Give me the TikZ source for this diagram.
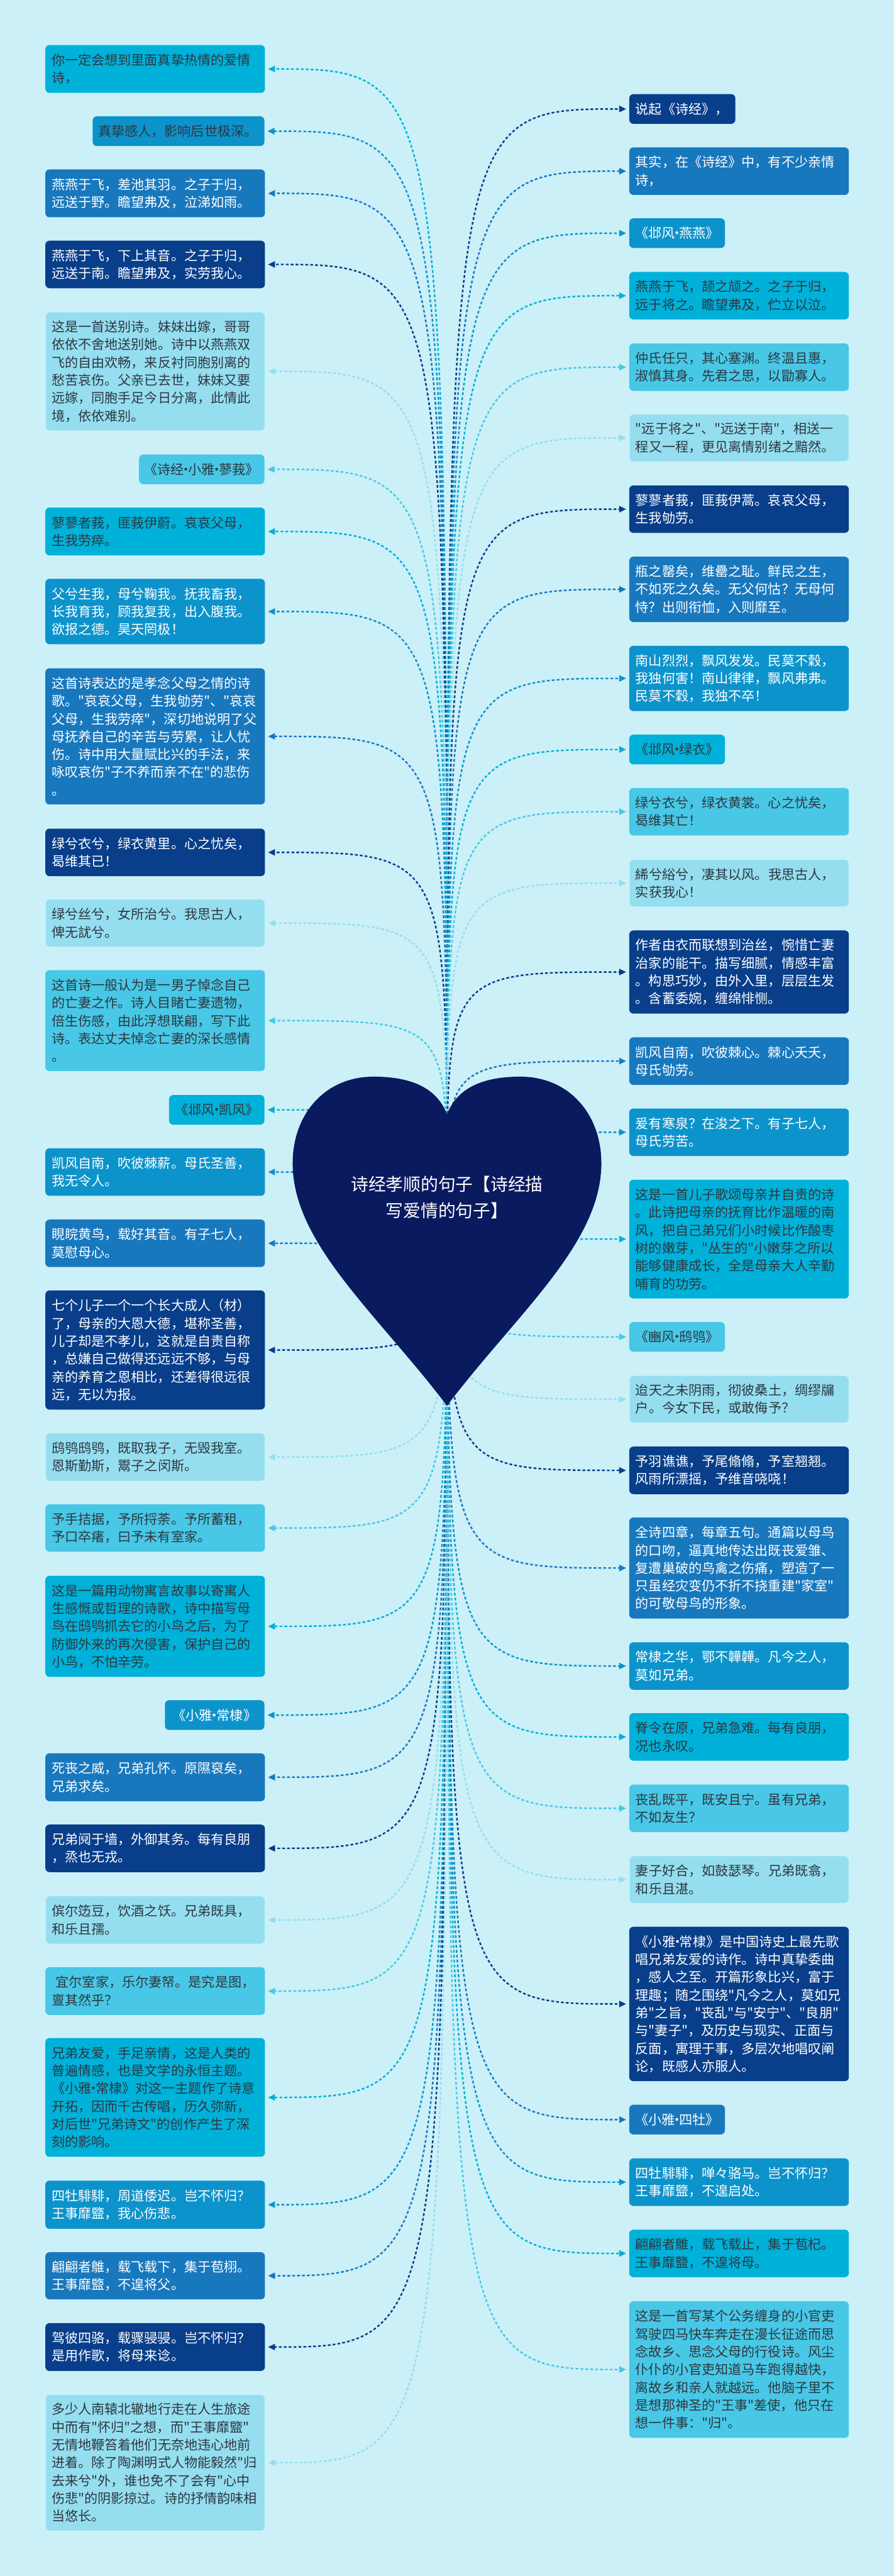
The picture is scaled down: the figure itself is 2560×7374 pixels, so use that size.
\documentclass[tikz,border=0pt]{standalone}
\usepackage{fontspec}
\newfontfamily\cjk{Noto Sans CJK SC}
\usetikzlibrary{arrows.meta}
\definecolor{bgc}{RGB}{203,240,248}
\definecolor{cnavy}{RGB}{8,62,138}
\definecolor{cblue}{RGB}{24,120,190}
\definecolor{cmid}{RGB}{13,147,203}
\definecolor{ccyan}{RGB}{0,177,217}
\definecolor{clight}{RGB}{72,200,230}
\definecolor{cpale}{RGB}{149,222,240}
\definecolor{cheart}{RGB}{10,26,94}
\definecolor{ctext}{RGB}{45,55,65}
\newcommand\mdt{\makebox[0.32em]{·}}
\pgfdeclarelayer{bglayer}
\pgfdeclarelayer{linelayer}
\pgfsetlayers{bglayer,linelayer,main}
\begin{document}
\begin{tikzpicture}[x=0.25pt,y=-0.25pt,
  box/.style={rounded corners=3pt, inner ysep=0pt, font=\cjk\fontsize{9.5pt}{12.75pt}\selectfont},
  lb/.style={box, anchor=west, align=left, inner xsep=4.5pt, text width=148.25pt, minimum height=#1*0.25pt},
  tl/.style={box, anchor=east, align=center, inner xsep=0pt, minimum width=#1*0.25pt, minimum height=21.25pt},
  tr/.style={box, anchor=west, align=center, inner xsep=0pt, minimum width=#1*0.25pt, minimum height=21.25pt},
  kNavy/.style={fill=cnavy, text=white},
  kBlue/.style={fill=cblue, text=white},
  kMid/.style={fill=cmid, text=white},
  kCyan/.style={fill=ccyan, text=ctext},
  kLight/.style={fill=clight, text=ctext},
  kPale/.style={fill=cpale, text=ctext, draw=white!55!cpale, line width=0.5pt},
  conn/.style={line width=1.1pt, dash pattern=on 2pt off 1.5pt, -{Triangle[length=5pt,width=4.5pt]}, shorten >=2pt},
]
\begin{pgfonlayer}{bglayer}
\fill[bgc] (0,0) rectangle (2560,7374);
\end{pgfonlayer}
\useasboundingbox (0,0) rectangle (2560,7374);
\coordinate (o) at (1280,3440);

% ---------- left column ----------
\node[lb=137,kCyan] (L1) at (129,197.5) {你一定会想到里面真挚热情的爱情\\诗，};
\node[box,anchor=east,align=left,inner xsep=4pt,text width=115pt,minimum height=21.25pt,fill=cmid,text=ctext] (L2) at (758,375.5) {真挚感人，影响后世极深。};
\node[lb=137,kBlue] (L3) at (129,553.5) {燕燕于飞，差池其羽。之子于归，\\远送于野。瞻望弗及，泣涕如雨。};
\node[lb=136,kNavy] (L4) at (129,757) {燕燕于飞，下上其音。之子于归，\\远送于南。瞻望弗及，实劳我心。};
\node[lb=340,kPale] (L5) at (129,1063) {这是一首送别诗。妹妹出嫁，哥哥\\依依不舍地送别她。诗中以燕燕双\\飞的自由欢畅，来反衬同胞别离的\\愁苦哀伤。父亲已去世，妹妹又要\\远嫁，同胞手足今日分离，此情此\\境，依依难别。};
\node[tl=359,kLight] (L6) at (758,1343.5) {《诗经\mdt 小雅\mdt 蓼莪》};
\node[lb=137,kCyan] (L7) at (129,1521.5) {蓼蓼者莪，匪莪伊蔚。哀哀父母，\\生我劳瘁。};
\node[lb=187,kMid] (L8) at (129,1750.5) {父兮生我，母兮鞠我。抚我畜我，\\长我育我，顾我复我，出入腹我。\\欲报之德。昊天罔极！};
\node[lb=390,kBlue] (L9) at (129,2108) {这首诗表达的是孝念父母之情的诗\\歌。"哀哀父母，生我劬劳"、"哀哀\\父母，生我劳瘁"，深切地说明了父\\母抚养自己的辛苦与劳累，让人忧\\伤。诗中用大量赋比兴的手法，来\\咏叹哀伤"子不养而亲不在"的悲伤\\。};
\node[lb=136,kNavy] (L10) at (129,2440) {绿兮衣兮，绿衣黄里。心之忧矣，\\曷维其已！};
\node[lb=137,kPale] (L11) at (129,2642.5) {绿兮丝兮，女所治兮。我思古人，\\俾无訧兮。};
\node[lb=289,kLight] (L12) at (129,2921.5) {这首诗一般认为是一男子悼念自己\\的亡妻之作。诗人目睹亡妻遗物，\\倍生伤感，由此浮想联翩，写下此\\诗。表达丈夫悼念亡妻的深长感情\\。};
\node[tl=273,kCyan] (L13) at (758,3177) {《邶风\mdt 凯风》};
\node[lb=136,kMid] (L14) at (129,3355) {凯风自南，吹彼棘薪。母氏圣善，\\我无令人。};
\node[lb=136,kBlue] (L15) at (129,3559) {睍睆黄鸟，载好其音。有子七人，\\莫慰母心。};
\node[lb=341,kNavy] (L16) at (129,3864.5) {七个儿子一个一个长大成人（材）\\了，母亲的大恩大德，堪称圣善，\\儿子却是不孝儿，这就是自责自称\\，总嫌自己做得还远远不够，与母\\亲的养育之恩相比，还差得很远很\\远，无以为报。};
\node[lb=138,kPale] (L17) at (129,4171) {鸱鸮鸱鸮，既取我子，无毁我室。\\恩斯勤斯，鬻子之闵斯。};
\node[lb=136,kLight] (L18) at (129,4374) {予手拮据，予所捋荼。予所蓄租，\\予口卒瘏，曰予未有室家。};
\node[lb=289,kCyan] (L19) at (129,4655.5) {这是一篇用动物寓言故事以寄寓人\\生感慨或哲理的诗歌，诗中描写母\\鸟在鸱鸮抓去它的小鸟之后，为了\\防御外来的再次侵害，保护自己的\\小鸟，不怕辛劳。};
\node[tl=285,kMid] (L20) at (758,4909.5) {《小雅\mdt 常棣》};
\node[lb=137,kBlue] (L21) at (129,5087.5) {死丧之威，兄弟孔怀。原隰裒矣，\\兄弟求矣。};
\node[lb=136,kNavy] (L22) at (129,5291) {兄弟阋于墙，外御其务。每有良朋\\，烝也无戎。};
\node[lb=138,kPale] (L23) at (129,5496) {傧尔笾豆，饮酒之饫。兄弟既具，\\和乐且孺。};
\node[lb=137,kLight] (L24) at (129,5699.5) {\hspace{3pt}宜尔室家，乐尔妻帑。是究是图，\\亶其然乎？};
\node[lb=340,kCyan] (L25) at (129,6004) {兄弟友爱，手足亲情，这是人类的\\普遍情感，也是文学的永恒主题。\\《小雅\mdt 常棣》对这一主题作了诗意\\开拓，因而千古传唱，历久弥新，\\对后世"兄弟诗文"的创作产生了深\\刻的影响。};
\node[lb=138,kMid] (L26) at (129,6311) {四牡騑騑，周道倭迟。岂不怀归？\\王事靡盬，我心伤悲。};
\node[lb=135,kBlue] (L27) at (129,6514.5) {翩翩者鵻，载飞载下，集于苞栩。\\王事靡盬，不遑将父。};
\node[lb=137,kNavy] (L28) at (129,6718.5) {驾彼四骆，载骤骎骎。岂不怀归？\\是用作歌，将母来谂。};
\node[lb=391,kPale] (L29) at (129,7049.5) {多少人南辕北辙地行走在人生旅途\\中而有"怀归"之想，而"王事靡盬"\\无情地鞭笞着他们无奈地违心地前\\进着。除了陶渊明式人物能毅然"归\\去来兮"外，谁也免不了会有"心中\\伤悲"的阴影掠过。诗的抒情韵味相\\当悠长。};

% ---------- right column ----------
\node[box,anchor=west,align=left,inner xsep=4.5pt,text width=67pt,minimum height=21.25pt,kNavy] (R1) at (1801,312) {说起《诗经》，};
\node[lb=136,kBlue] (R2) at (1801,490) {其实，在《诗经》中，有不少亲情\\诗，};
\node[tr=274,kMid] (R3) at (1801,667.5) {《邶风\mdt 燕燕》};
\node[lb=136,kCyan] (R4) at (1801,846.5) {燕燕于飞，颉之颃之。之子于归，\\远于将之。瞻望弗及，伫立以泣。};
\node[lb=136,kLight] (R5) at (1801,1051) {仲氏任只，其心塞渊。终温且惠，\\淑慎其身。先君之思，以勖寡人。};
\node[lb=136,kPale] (R6) at (1801,1253.5) {"远于将之"、"远送于南"，相送一\\程又一程，更见离情别绪之黯然。};
\node[lb=136,kNavy] (R7) at (1801,1457.5) {蓼蓼者莪，匪莪伊蒿。哀哀父母，\\生我劬劳。};
\node[lb=187,kBlue] (R8) at (1801,1687) {瓶之罄矣，维罍之耻。鲜民之生，\\不如死之久矣。无父何怙？无母何\\恃？出则衔恤，入则靡至。};
\node[lb=187,kMid] (R9) at (1801,1942) {南山烈烈，飘风发发。民莫不穀，\\我独何害！南山律律，飘风弗弗。\\民莫不穀，我独不卒！};
\node[tr=274,kCyan] (R10) at (1801,2145.5) {《邶风\mdt 绿衣》};
\node[lb=136,kLight] (R11) at (1801,2323.5) {绿兮衣兮，绿衣黄裳。心之忧矣，\\曷维其亡！};
\node[lb=136,kPale] (R12) at (1801,2528) {絺兮綌兮，凄其以风。我思古人，\\实获我心！};
\node[lb=238,kNavy] (R13) at (1801,2782.5) {作者由衣而联想到治丝，惋惜亡妻\\治家的能干。描写细腻，情感丰富\\。构思巧妙，由外入里，层层生发\\。含蓄委婉，缠绵悱恻。};
\node[lb=136,kBlue] (R14) at (1801,3037.5) {凯风自南，吹彼棘心。棘心夭夭，\\母氏劬劳。};
\node[lb=136,kMid] (R15) at (1801,3241) {爰有寒泉？在浚之下。有子七人，\\母氏劳苦。};
\node[lb=340,kCyan] (R16) at (1801,3547) {这是一首儿子歌颂母亲并自责的诗\\。此诗把母亲的抚育比作温暖的南\\风，把自己弟兄们小时候比作酸枣\\树的嫩芽，"丛生的"小嫩芽之所以\\能够健康成长，全是母亲大人辛勤\\哺育的功劳。};
\node[tr=274,kLight] (R17) at (1801,3827) {《豳风\mdt 鸱鸮》};
\node[lb=136,kPale] (R18) at (1801,4005.5) {迨天之未阴雨，彻彼桑土，绸缪牖\\户。今女下民，或敢侮予？};
\node[lb=136,kNavy] (R19) at (1801,4209) {予羽谯谯，予尾翛翛，予室翘翘。\\风雨所漂摇，予维音哓哓！};
\node[lb=289,kBlue] (R20) at (1801,4488.5) {全诗四章，每章五句。通篇以母鸟\\的口吻，逼真地传达出既丧爱雏、\\复遭巢破的鸟禽之伤痛，塑造了一\\只虽经灾变仍不折不挠重建"家室"\\的可敬母鸟的形象。};
\node[lb=136,kMid] (R21) at (1801,4769) {常棣之华，鄂不韡韡。凡今之人，\\莫如兄弟。};
\node[lb=136,kCyan] (R22) at (1801,4972) {脊令在原，兄弟急难。每有良朋，\\况也永叹。};
\node[lb=136,kLight] (R23) at (1801,5176.5) {丧乱既平，既安且宁。虽有兄弟，\\不如友生？};
\node[lb=136,kPale] (R24) at (1801,5380.5) {妻子好合，如鼓瑟琴。兄弟既翕，\\和乐且湛。};
\node[lb=442,kNavy] (R25) at (1801,5736.5) {《小雅\mdt 常棣》是中国诗史上最先歌\\唱兄弟友爱的诗作。诗中真挚委曲\\，感人之至。开篇形象比兴，富于\\理趣；随之围绕"凡今之人，莫如兄\\弟"之旨，"丧乱"与"安宁"、"良朋"\\与"妻子"，及历史与现实、正面与\\反面，寓理于事，多层次地唱叹阐\\论，既感人亦服人。};
\node[tr=274,kBlue] (R26) at (1801,6067.5) {《小雅\mdt 四牡》};
\node[lb=136,kMid] (R27) at (1801,6246.5) {四牡騑騑，啴々骆马。岂不怀归？\\王事靡盬，不遑启处。};
\node[lb=136,kCyan] (R28) at (1801,6450.5) {翩翩者鵻，载飞载止，集于苞杞。\\王事靡盬，不遑将母。};
\node[lb=391,kLight] (R29) at (1801,6783) {这是一首写某个公务缠身的小官吏\\驾驶四马快车奔走在漫长征途而思\\念故乡、思念父母的行役诗。风尘\\仆仆的小官吏知道马车跑得越快，\\离故乡和亲人就越远。他脑子里不\\是想那神圣的"王事"差使，他只在\\想一件事："归"。};

% ---------- connectors ----------
\begin{pgfonlayer}{linelayer}
\foreach \n/\c in {L1/ccyan,L2/cmid,L3/cblue,L4/cnavy,L5/cpale,L6/clight,L7/ccyan,L8/cmid,L9/cblue,L10/cnavy,L11/cpale,L12/clight,L13/ccyan,L14/cmid,L15/cblue,L16/cnavy,L17/cpale,L18/clight,L19/ccyan,L20/cmid,L21/cblue,L22/cnavy,L23/cpale,L24/clight,L25/ccyan,L26/cmid,L27/cblue,L28/cnavy,L29/cpale}
  {\draw[conn,draw=\c] (o) .. controls (o |- \n.east) .. (\n.east);}
\foreach \n/\c in {R1/cnavy,R2/cblue,R3/cmid,R4/ccyan,R5/clight,R6/cpale,R7/cnavy,R8/cblue,R9/cmid,R10/ccyan,R11/clight,R12/cpale,R13/cnavy,R14/cblue,R15/cmid,R16/ccyan,R17/clight,R18/cpale,R19/cnavy,R20/cblue,R21/cmid,R22/ccyan,R23/clight,R24/cpale,R25/cnavy,R26/cblue,R27/cmid,R28/ccyan,R29/clight}
  {\draw[conn,draw=\c] (o) .. controls (o |- \n.west) .. (\n.west);}
\end{pgfonlayer}

% ---------- heart ----------
\fill[cheart] (1280,3190) .. controls (1250,3110) and (1170,3082) .. (1070,3082)
  .. controls (930,3082) and (838,3190) .. (838,3330)
  .. controls (838,3560) and (1080,3760) .. (1280,4024)
  .. controls (1480,3760) and (1722,3560) .. (1722,3330)
  .. controls (1722,3190) and (1630,3082) .. (1490,3082)
  .. controls (1390,3082) and (1310,3110) .. (1280,3190) -- cycle;
\node[font=\cjk\fontsize{12.5pt}{18.75pt}\selectfont, text=white, align=center] (htxt) at (1280,3428) {诗经孝顺的句子【诗经描\\写爱情的句子】};
\end{tikzpicture}
\end{document}
